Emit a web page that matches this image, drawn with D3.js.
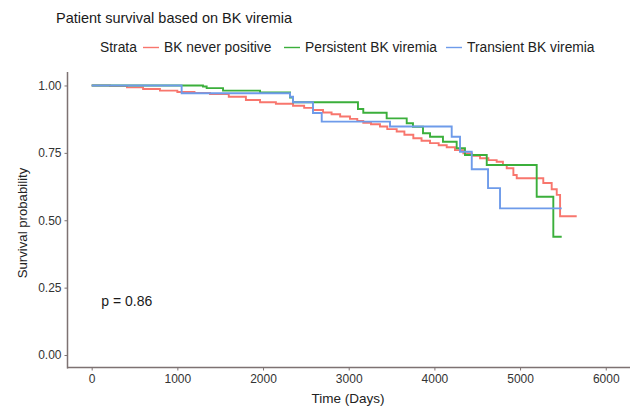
<!DOCTYPE html>
<html>
<head>
<meta charset="utf-8">
<script src="https://cdn.jsdelivr.net/npm/d3@7"></script>
<style>
  html, body { margin: 0; padding: 0; background: #ffffff; }
  svg { display: block; font-family: "Liberation Sans", Arial, sans-serif; }
</style>
</head>
<body>
<svg id="chart" width="640" height="406"></svg>
<script>
// ---- Data ----
const strata = ["BK never positive", "Persistent BK viremia", "Transient BK viremia"];
const strataColors = ["#F8766D", "#3BAF3B", "#6E9BEA"];

// Kaplan-Meier steps: [time (days), survival after the step]
const neverTime = [0, 214, 412, 600, 797, 1000, 1200, 1381, 1600, 1800, 1965, 2150, 2350, 2480, 2583, 2700, 2800, 2900, 3015, 3100, 3170, 3260, 3365, 3450, 3560, 3650, 3754, 3850, 3949, 4050, 4144, 4240, 4338, 4440, 4533, 4630, 4727, 4800, 4844, 4922, 4961, 5271, 5369, 5428, 5467, 5661];
const neverSurv = [1.000, 0.998, 0.993, 0.987, 0.981, 0.976, 0.972, 0.968, 0.958, 0.946, 0.938, 0.932, 0.925, 0.917, 0.909, 0.900, 0.893, 0.885, 0.876, 0.868, 0.862, 0.856, 0.848, 0.838, 0.829, 0.817, 0.804, 0.795, 0.786, 0.778, 0.771, 0.760, 0.748, 0.739, 0.730, 0.723, 0.717, 0.705, 0.693, 0.668, 0.656, 0.638, 0.615, 0.594, 0.515, 0.515];

const persistTime = [0, 1050, 1299, 1342, 1533, 1965, 2315, 2350, 3108, 3170, 3443, 3677, 3750, 3867, 3949, 4100, 4260, 4357, 4611, 5194, 5388, 5486];
const persistSurv = [1.000, 1.000, 0.996, 0.990, 0.981, 0.974, 0.955, 0.938, 0.913, 0.899, 0.878, 0.860, 0.847, 0.823, 0.810, 0.791, 0.767, 0.742, 0.705, 0.587, 0.439, 0.439];

const transTime = [0, 1050, 2315, 2350, 2583, 2685, 3482, 4202, 4299, 4436, 4626, 4766, 5486];
const transSurv = [1.000, 0.971, 0.958, 0.938, 0.898, 0.866, 0.848, 0.810, 0.754, 0.689, 0.619, 0.544, 0.544];

const xTicks = [0, 1000, 2000, 3000, 4000, 5000, 6000];
const yTicks = [0, 0.25, 0.5, 0.75, 1];
const yTickLabels = ["0.00", "0.25", "0.50", "0.75", "1.00"];

const title = "Patient survival based on BK viremia";
const legendTitle = "Strata";
const xTitle = "Time (Days)";
const yTitle = "Survival probability";
const pText = "p = 0.86";
const pPos = [100, 0.2];

// ---- Layout ----
const svg = d3.select("#chart");
const x = d3.scaleLinear().domain([-288, 6283]).range([67, 630]);
const y = d3.scaleLinear().domain([-0.05, 1.05]).range([368.5, 72]);

const series = [
  { name: strata[0], color: strataColors[0], t: neverTime, s: neverSurv },
  { name: strata[1], color: strataColors[1], t: persistTime, s: persistSurv },
  { name: strata[2], color: strataColors[2], t: transTime, s: transSurv }
];

const line = d3.line()
  .x(d => x(d[0]))
  .y(d => y(d[1]))
  .curve(d3.curveStepAfter);

const plot = svg.append("g");
series.forEach(sr => {
  const pts = sr.t.map((t, i) => [t, sr.s[i]]);
  plot.append("path")
    .datum(pts)
    .attr("d", line)
    .attr("fill", "none")
    .attr("stroke", sr.color)
    .attr("stroke-width", 1.9);
});

// ---- Axes ----
const axisColor = "#7d7272";
const textColor = "#333333";

const xAxis = svg.append("g")
  .attr("transform", "translate(0,367.5)")
  .call(d3.axisBottom(x).tickValues(xTicks).tickSize(3).tickPadding(4).tickFormat(d3.format("d")));
const yAxis = svg.append("g")
  .attr("transform", "translate(67.5,0)")
  .call(d3.axisLeft(y).tickValues(yTicks).tickSize(3).tickPadding(3).tickFormat((d, i) => yTickLabels[i]));

[xAxis, yAxis].forEach(a => {
  a.select(".domain").attr("stroke", axisColor).attr("stroke-width", 1.5);
  a.selectAll(".tick line").attr("stroke", axisColor);
  a.selectAll(".tick text").attr("fill", textColor).attr("font-size", 12)
    .attr("font-family", "'Liberation Sans', Arial, sans-serif");
});
xAxis.select(".domain").attr("d", "M67,0H630");
yAxis.select(".domain").attr("d", "M0,72V368.5");

// Axis titles
svg.append("text")
  .attr("x", 348).attr("y", 403)
  .attr("text-anchor", "middle")
  .attr("font-size", 13.5).attr("fill", "#222")
  .text(xTitle);

svg.append("text")
  .attr("transform", "translate(27,223) rotate(-90)")
  .attr("text-anchor", "middle")
  .attr("font-size", 13.2).attr("fill", "#222")
  .text(yTitle);

// Title
svg.append("text")
  .attr("x", 56).attr("y", 23)
  .attr("font-size", 14.5).attr("fill", "#1a1a1a")
  .text(title);

// Legend
const lg = svg.append("g").attr("transform", "translate(0,52)");
lg.append("text").attr("x", 100).attr("y", 0)
  .attr("font-size", 13.8).attr("fill", "#222").text(legendTitle);
const legendX = [143, 284, 446];
series.forEach((sr, i) => {
  lg.append("line")
    .attr("x1", legendX[i]).attr("x2", legendX[i] + 16)
    .attr("y1", -4.5).attr("y2", -4.5)
    .attr("stroke", sr.color).attr("stroke-width", 1.4);
  lg.append("text")
    .attr("x", legendX[i] + 21).attr("y", 0)
    .attr("font-size", 13.8).attr("fill", "#222")
    .text(sr.name);
});

// p-value
svg.append("text")
  .attr("x", x(pPos[0]) + 1).attr("y", y(pPos[1]) + 5)
  .attr("font-size", 14).attr("fill", "#1a1a1a")
  .text(pText);
</script>
</body>
</html>
